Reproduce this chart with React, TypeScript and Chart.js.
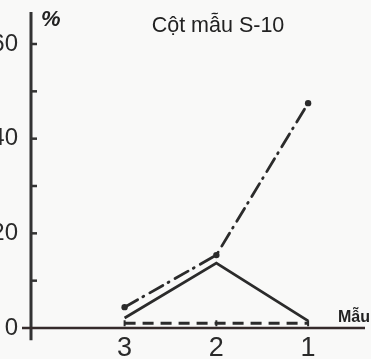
import React, { useEffect, useRef } from "react";
import { Chart, registerables } from "chart.js";

Chart.register(...registerables);

const categories = ["3", "2", "1"];
const dashDotSeries = [4.4, 15.4, 47.5];
const solidSeries = [2.1, 13.7, 1.5];
const dashedSeries = [1.0, 1.0, 1.0];
const yTickValues = [10, 20, 30, 40, 50, 60];
const yLabelValues = [0, 20, 40, 60];
const titleText = "Cột mẫu S-10";
const yUnit = "%";
const xUnit = "Mẫu";

const INK = "#2b2b2b";

const decorPlugin = {
  id: "decor",
  beforeDraw(chart: any) {
    const { ctx, width, height } = chart;
    ctx.save();
    ctx.fillStyle = "#f9f9f8";
    ctx.fillRect(0, 0, width, height);
    ctx.restore();
  },
  beforeDatasetsDraw(chart: any) {
    const { ctx, chartArea } = chart;
    const y = chart.scales.y;
    const left = chartArea.left;
    const y0 = y.getPixelForValue(0);
    ctx.save();
    // y axis line
    ctx.strokeStyle = "#333";
    ctx.lineWidth = 3;
    ctx.beginPath();
    ctx.moveTo(left, chartArea.top);
    ctx.lineTo(left, y.getPixelForValue(-2.6));
    ctx.stroke();
    // y tick marks (inward)
    ctx.lineWidth = 2.5;
    yTickValues.forEach((v) => {
      const py = y.getPixelForValue(v);
      ctx.beginPath();
      ctx.moveTo(left, py);
      ctx.lineTo(left + 6, py);
      ctx.stroke();
    });
    // x axis line
    ctx.strokeStyle = "#352b2b";
    ctx.lineWidth = 2.5;
    ctx.beginPath();
    ctx.moveTo(left - 9, y0);
    ctx.lineTo(chartArea.right, y0);
    ctx.stroke();
    // texts
    ctx.fillStyle = "#222";
    ctx.textBaseline = "alphabetic";
    ctx.textAlign = "center";
    ctx.font = "21.5px 'Liberation Sans', Arial, sans-serif";
    ctx.fillText(titleText, 218, 32);
    ctx.textAlign = "left";
    ctx.font = "italic bold 22px 'Liberation Sans', Arial, sans-serif";
    ctx.fillText(yUnit, 41, 26);
    ctx.font = "bold 16px 'Liberation Sans', Arial, sans-serif";
    ctx.fillText(xUnit, 338, 322);
    ctx.restore();
  },
};

export default function App() {
  const ref = useRef<HTMLCanvasElement | null>(null);
  useEffect(() => {
    if (!ref.current) return;
    const toPts = (arr: number[]) => arr.map((v, i) => ({ x: i, y: v }));
    const chart = new Chart(ref.current, {
      type: "line",
      data: {
        datasets: [
          {
            label: "a",
            data: toPts(dashDotSeries),
            borderColor: INK,
            backgroundColor: INK,
            borderWidth: 2.8,
            borderDash: [15, 6, 1, 7],
            borderCapStyle: "round",
            pointRadius: 3.2,
            pointBorderWidth: 0,
            pointBackgroundColor: INK,
            tension: 0,
          },
          {
            label: "b",
            data: toPts(solidSeries),
            borderColor: INK,
            borderWidth: 2.8,
            pointRadius: 0,
            tension: 0,
          },
          {
            label: "c",
            data: toPts(dashedSeries),
            borderColor: INK,
            borderWidth: 2.8,
            borderDash: [11, 7],
            pointStyle: "line",
            rotation: 90,
            pointRadius: 3,
            pointBorderWidth: 2,
            pointBorderColor: INK,
            tension: 0,
          },
        ],
      },
      options: {
        animation: false,
        responsive: false,
        maintainAspectRatio: false,
        events: [],
        layout: { padding: { left: 0, right: 0, top: 12, bottom: 0 } },
        plugins: { legend: { display: false }, tooltip: { enabled: false }, title: { display: false } },
        scales: {
          x: {
            type: "linear",
            min: -1.02,
            max: 2.62,
            border: { display: false },
            grid: { display: false, drawTicks: false },
            afterBuildTicks: (s: any) => {
              s.ticks = categories.map((_, i) => ({ value: i }));
            },
            afterFit: (s: any) => {
              s.height = 31;
              s.paddingLeft = 0;
              s.paddingRight = 0;
            },
            ticks: {
              autoSkip: false,
              maxRotation: 0,
              padding: 4,
              color: "#2a2a2a",
              font: { family: "'Liberation Sans', Arial, sans-serif", size: 27 },
              callback: (v: any) => categories[Math.round(Number(v))] ?? "",
            },
          },
          y: {
            type: "linear",
            min: 0,
            max: 66.76,
            border: { display: false },
            grid: { display: false, drawTicks: false },
            afterBuildTicks: (s: any) => {
              s.ticks = yLabelValues.map((v) => ({ value: v }));
            },
            afterFit: (s: any) => {
              s.width = 31;
              s.paddingTop = 0;
              s.paddingBottom = 0;
            },
            ticks: {
              padding: 13,
              color: "#2a2a2a",
              font: { family: "'Liberation Sans', Arial, sans-serif", size: 24 },
              callback: (v: any) => String(v),
            },
          },
        },
      },
      plugins: [decorPlugin],
    } as any);
    return () => chart.destroy();
  }, []);
  return (
    <div style={{ position: "fixed", left: 0, top: 0, width: 371, height: 359 }}>
      <canvas ref={ref} width={371} height={359} style={{ display: "block", width: 371, height: 359 }} />
    </div>
  );
}
